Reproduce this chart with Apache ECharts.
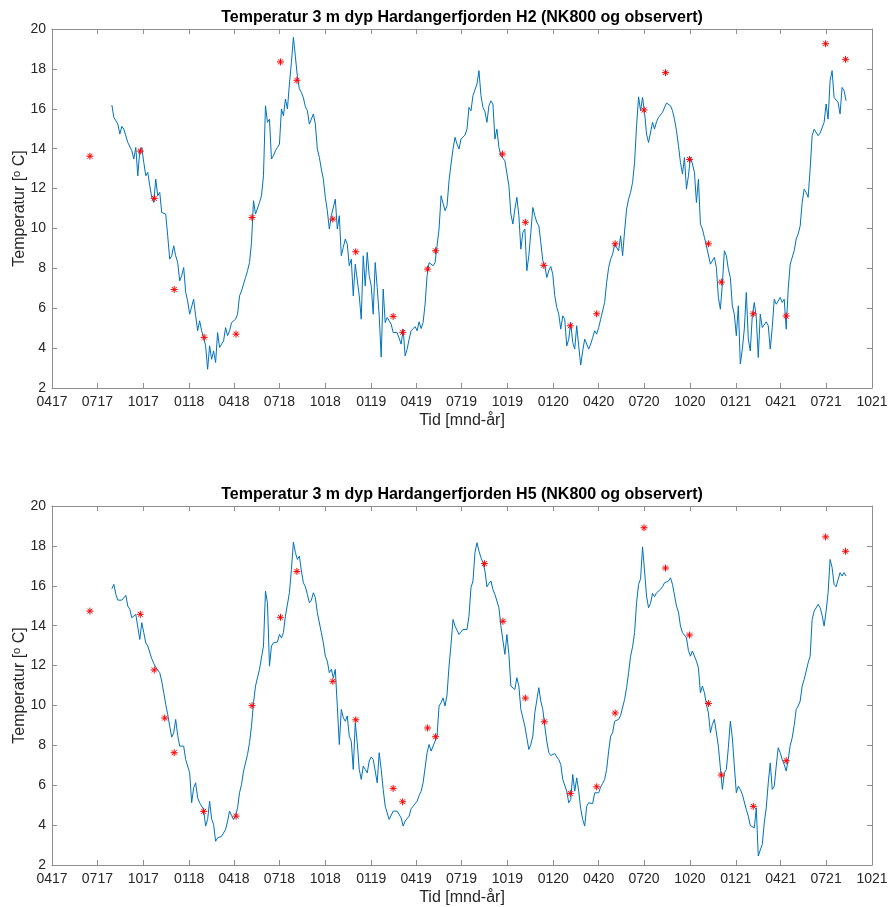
<!DOCTYPE html>
<html><head><meta charset="utf-8">
<script src="https://cdn.jsdelivr.net/npm/echarts@6/dist/echarts.min.js"></script>
<style>html,body{margin:0;padding:0;background:#fff}#c{width:889px;height:907px}</style>
</head><body><div id="c"></div>
<script>
// ---- data ----
const tickLabels = ['0417','0717','1017','0118','0418','0718','1018','0119','0419','0719','1019','0120','0420','0720','1020','0121','0421','0721','1021'];
const axisStart = '2017-04-01';
const lineStart = '2017-07-30';
const lineStepDays = 4;
const titles = ['Temperatur 3 m dyp Hardangerfjorden H2 (NK800 og observert)', 'Temperatur 3 m dyp Hardangerfjorden H5 (NK800 og observert)'];

const h2Model = [
16.19,15.57,15.40,15.23,14.73,15.12,14.98,15.07,14.31,14.40,
13.90,13.48,14.06,12.64,13.90,14.06,13.31,12.64,12.81,12.14,
11.56,11.30,12.47,11.64,11.81,10.80,10.89,10.72,9.63,8.46,
8.63,9.13,8.63,8.29,7.37,7.63,8.04,6.79,6.37,5.70,
5.62,6.45,5.62,4.87,5.37,4.87,4.53,4.11,2.94,4.11,
3.44,3.86,3.28,4.78,4.03,4.20,4.36,5.03,4.62,4.87,
5.28,5.28,5.45,5.70,6.62,6.87,6.96,7.54,7.88,8.29,
9.30,11.39,10.72,10.64,11.30,11.64,12.64,16.15,15.32,15.48,
13.48,13.65,13.90,14.06,14.23,15.99,15.65,16.49,15.99,17.24,
18.33,19.58,18.60,17.60,17.00,16.82,16.55,16.10,15.90,15.23,
15.32,15.74,15.23,13.98,13.56,12.98,12.47,11.56,10.89,9.97,
10.64,10.64,11.47,9.97,10.64,8.63,9.05,9.47,9.21,8.13,
8.46,6.62,8.21,8.29,6.62,5.45,8.63,7.12,8.80,7.63,
7.12,5.70,8.29,7.04,5.62,3.55,6.96,5.28,5.54,5.37,
5.20,4.78,4.87,4.78,4.82,4.20,4.95,3.61,3.95,4.45,
4.87,4.87,5.08,4.87,5.32,4.98,5.28,6.20,7.63,8.29,
8.29,8.13,8.29,9.13,9.97,11.64,11.56,10.89,11.14,12.39,
13.23,13.98,14.57,14.23,13.98,14.48,14.57,14.68,14.98,16.07,
15.90,16.66,16.74,17.24,17.91,16.66,16.07,15.85,15.32,16.15,
16.40,16.24,14.48,14.98,14.06,13.65,13.65,13.39,13.39,12.14,
10.72,10.22,10.97,11.56,10.64,8.96,9.80,9.97,7.88,8.63,
9.80,11.05,10.64,10.30,10.13,9.30,8.38,8.13,7.54,7.88,
8.09,7.71,6.62,6.04,5.70,4.95,5.62,5.45,4.11,4.45,
5.28,4.28,3.95,5.12,4.11,3.15,3.86,4.45,4.53,3.95,
4.20,4.53,4.87,4.70,5.03,5.45,5.54,6.29,7.29,8.04,
8.46,8.71,9.21,9.21,8.88,9.63,8.63,9.88,10.97,11.47,
11.81,12.31,13.31,15.15,16.60,15.90,16.57,15.82,14.73,14.31,
14.31,15.32,14.98,15.35,15.57,15.62,15.82,15.82,16.29,16.24,
16.15,15.90,15.48,14.90,14.15,13.31,12.73,13.56,11.97,12.64,
13.56,13.23,12.81,11.30,12.47,10.22,9.97,9.55,9.13,9.21,
8.21,8.29,8.55,8.04,6.54,5.95,7.21,8.88,8.63,7.96,
7.54,6.12,5.70,4.62,6.12,3.20,3.95,4.95,6.79,4.45,
3.86,5.62,6.29,5.54,3.53,5.70,5.03,5.12,5.32,5.12,
3.95,5.03,6.45,6.20,6.12,6.54,6.29,6.45,4.95,6.96,
8.21,8.29,8.88,9.47,9.72,10.13,11.30,11.97,11.81,11.56,
12.98,14.65,14.98,14.98,14.65,14.78,14.68,15.32,16.24,15.48,
17.41,17.91,16.57,16.52,16.32,15.74,17.07,16.91,16.40
];

const h5Model = [
15.85,16.07,15.57,15.28,15.18,15.28,15.40,15.52,14.98,14.82,
14.40,14.48,14.57,14.48,13.31,14.15,13.65,13.14,12.98,12.98,
12.34,12.11,11.91,11.97,11.64,11.22,10.64,10.05,9.55,8.96,
8.41,8.63,9.30,8.50,7.96,7.93,7.96,7.29,7.21,6.62,
5.12,5.87,6.12,5.37,5.12,5.12,4.78,3.95,4.28,5.20,
4.31,4.03,3.19,3.36,3.36,3.44,3.44,3.78,4.20,4.70,
4.48,4.28,4.45,4.87,5.62,6.04,6.71,7.12,7.54,8.13,
8.96,10.13,10.97,11.39,11.81,11.84,12.98,15.74,15.12,11.97,
12.98,13.14,13.23,13.18,13.56,13.39,13.65,14.48,14.48,15.65,
16.82,18.19,17.66,17.32,17.49,16.74,16.15,15.95,15.57,15.15,
15.28,15.65,15.40,14.65,14.65,13.65,13.14,12.47,12.22,11.64,
11.81,11.39,11.81,9.97,8.04,9.80,9.38,9.21,9.47,8.46,
8.21,6.79,9.13,8.13,6.79,6.29,6.96,6.79,6.62,7.21,
7.42,7.29,6.71,6.12,7.63,6.79,5.79,4.95,4.87,4.28,
4.36,4.70,4.78,4.70,4.65,4.36,3.95,4.20,4.11,4.45,
4.82,4.95,5.03,5.20,5.48,5.69,6.12,6.87,7.63,8.04,
7.71,7.96,8.21,8.46,9.97,10.13,10.38,9.97,10.55,11.97,
13.06,14.31,13.98,14.06,13.56,13.68,13.81,13.81,13.81,14.48,
15.90,16.24,17.66,18.16,17.74,17.41,17.16,16.74,15.95,16.12,
16.24,15.82,15.57,15.62,14.90,13.98,13.90,12.56,13.56,12.56,
10.97,10.89,10.80,11.39,10.97,9.80,9.88,8.96,8.38,7.79,
8.04,8.46,9.63,9.72,10.89,10.22,9.80,8.96,8.21,7.63,
7.49,7.59,7.59,7.42,7.29,7.04,6.29,6.20,5.70,5.12,
5.28,6.54,5.70,6.37,5.70,4.82,4.28,3.95,4.95,5.12,
5.15,5.08,5.62,5.70,5.62,5.92,6.09,6.29,6.79,7.71,
8.46,8.63,9.21,9.21,9.30,9.50,9.50,10.30,10.89,11.64,
12.47,12.94,13.65,15.15,16.07,16.35,17.95,16.74,15.48,14.90,
15.12,15.62,15.45,15.65,15.74,15.82,15.95,16.15,16.22,16.24,
16.40,16.07,15.99,14.98,14.68,13.98,13.65,13.73,13.39,12.75,
12.47,12.73,12.73,12.22,11.89,10.64,10.97,10.64,10.05,9.63,
8.63,9.05,9.30,9.21,7.96,6.87,5.79,6.62,6.79,7.88,
9.21,8.38,6.96,5.62,5.95,5.79,5.54,5.45,4.78,4.45,
3.98,4.03,3.86,4.87,2.45,2.75,3.03,4.11,4.87,6.12,
7.12,5.79,5.95,6.96,7.88,7.63,7.29,7.04,6.71,7.29,
7.99,8.38,9.00,9.80,9.97,10.22,10.97,11.30,11.72,12.14,
12.47,14.31,14.73,14.73,15.07,14.90,14.52,13.98,14.73,15.65,
17.32,16.91,16.07,15.95,15.85,16.66,16.49,16.66,16.49
];

const h2ObsDates = ['2017-06-16','2017-09-25','2017-10-23','2017-12-02','2018-01-31','2018-04-05','2018-05-07','2018-07-03','2018-08-05','2018-10-16','2018-12-01','2019-02-14','2019-03-05','2019-04-24','2019-05-10','2019-09-21','2019-11-06','2019-12-13','2020-02-04','2020-03-28','2020-05-04','2020-07-01','2020-08-13','2020-09-30','2020-11-07','2020-12-03','2021-02-05','2021-04-12','2021-06-30','2021-08-09'];
const h2Obs = [13.62,13.88,11.51,6.94,4.54,4.70,10.55,18.35,17.43,10.47,8.83,5.59,4.79,7.96,8.88,13.73,10.31,8.15,5.12,5.72,9.23,15.94,17.81,13.46,9.23,7.31,5.72,5.61,19.26,18.48];

const h5ObsDates = ['2017-06-16','2017-09-25','2017-10-23','2017-11-13','2017-12-02','2018-01-30','2018-04-05','2018-05-07','2018-07-03','2018-08-05','2018-10-16','2018-12-01','2019-02-14','2019-03-05','2019-04-24','2019-05-10','2019-08-16','2019-09-22','2019-11-06','2019-12-14','2020-02-04','2020-03-28','2020-05-04','2020-07-01','2020-08-13','2020-09-30','2020-11-07','2020-12-03','2021-02-05','2021-04-12','2021-06-30','2021-08-09'];
const h5Obs = [14.73,14.57,11.78,9.37,7.63,4.69,4.45,9.99,14.42,16.72,11.21,9.28,5.84,5.17,8.87,8.43,17.11,14.22,10.37,9.18,5.59,5.92,9.62,18.91,16.89,13.53,10.10,6.51,4.94,7.23,18.45,17.73];

// ---- helpers ----
const DAY = 86400000;
const t0 = Date.parse(axisStart);
const dayOf = s => (Date.parse(s) - t0) / DAY;
const labelDay = l => (Date.UTC(2000 + (+l.slice(2)), (+l.slice(0, 2)) - 1, 1) - t0) / DAY;
const tickDays = tickLabels.map(labelDay);
const lineStartDay = dayOf(lineStart);
const modelPts = arr => arr.map((v, i) => [lineStartDay + i * lineStepDays, v]);
const obsPts = (d, v) => d.map((s, i) => [dayOf(s), v[i]]);

const FONT = '"Liberation Sans", Arial, Helvetica, sans-serif';
const AX = '#8f8f8f';
const TXT = '#262626';
const STAR = 'path://M5,0L5,10M0,5L10,5M1.5,1.5L8.5,8.5M1.5,8.5L8.5,1.5';

const grids = [
  {left: 52, top: 29, width: 820, height: 359, containLabel: false, outerBoundsMode: 'none'},
  {left: 52, top: 506, width: 820, height: 359, containLabel: false, outerBoundsMode: 'none'}
];

const xAxis = [], yAxis = [];
grids.forEach((g, gi) => {
  xAxis.push({
    type: 'value', gridIndex: gi, position: 'bottom',
    min: tickDays[0], max: tickDays[tickDays.length - 1],
    axisLine: {show: true, onZero: false, lineStyle: {color: AX, width: 1}},
    axisTick: {show: true, inside: true, length: 5, customValues: tickDays, lineStyle: {color: AX}},
    axisLabel: {
      show: true, customValues: tickDays, margin: 7, color: TXT, fontSize: 14, fontFamily: FONT,
      formatter: v => { const k = tickDays.findIndex(d => Math.abs(d - v) < 0.5); return k >= 0 ? tickLabels[k] : ''; }
    },
    splitLine: {show: false},
    name: 'Tid [mnd-år]', nameLocation: 'middle', nameGap: 25, nameMoveOverlap: false,
    nameTextStyle: {color: TXT, fontSize: 16, fontFamily: FONT}
  });
  xAxis.push({
    type: 'value', gridIndex: gi, position: 'top',
    min: tickDays[0], max: tickDays[tickDays.length - 1],
    axisLine: {show: true, onZero: false, lineStyle: {color: AX, width: 1}},
    axisTick: {show: true, inside: true, length: 5, customValues: tickDays, lineStyle: {color: AX}},
    axisLabel: {show: false}, splitLine: {show: false}
  });
  yAxis.push({
    type: 'value', gridIndex: gi, position: 'left', min: 2, max: 20, interval: 2,
    axisLine: {show: true, onZero: false, lineStyle: {color: AX, width: 1}},
    axisTick: {show: true, inside: true, length: 5, lineStyle: {color: AX}},
    axisLabel: {margin: 6, color: TXT, fontSize: 14, fontFamily: FONT},
    splitLine: {show: false},
    name: 'Temperatur [{sup|o} C]', nameLocation: 'middle', nameGap: 24, nameMoveOverlap: false,
    nameTextStyle: {color: TXT, fontSize: 16, fontFamily: FONT,
      rich: {sup: {fontSize: 11, color: TXT, fontFamily: FONT, verticalAlign: 'top', lineHeight: 17}}}
  });
  yAxis.push({
    type: 'value', gridIndex: gi, position: 'right', min: 2, max: 20, interval: 2,
    axisLine: {show: true, onZero: false, lineStyle: {color: AX, width: 1}},
    axisTick: {show: true, inside: true, length: 5, lineStyle: {color: AX}},
    axisLabel: {show: false}, splitLine: {show: false}
  });
});

const lineSeries = (data, gi) => ({
  type: 'line', xAxisIndex: gi * 2, yAxisIndex: gi * 2, data: data,
  showSymbol: false, symbol: 'none', lineStyle: {color: '#0072BD', width: 1}, z: 2
});
const obsSeries = (data, gi) => ({
  type: 'scatter', xAxisIndex: gi * 2, yAxisIndex: gi * 2, data: data,
  symbol: STAR, symbolSize: 7,
  itemStyle: {color: 'rgba(0,0,0,0)', borderColor: '#ff0000', borderWidth: 1, opacity: 1}, z: 3
});

const chart = echarts.init(document.getElementById('c'), null, {renderer: 'canvas'});
chart.setOption({
  animation: false,
  backgroundColor: '#ffffff',
  grid: grids,
  xAxis: xAxis,
  yAxis: yAxis,
  graphic: titles.map((t, gi) => ({
    type: 'text', x: grids[gi].left + grids[gi].width / 2, y: grids[gi].top - 11,
    style: {text: t, textAlign: 'center', textVerticalAlign: 'middle', fill: '#000',
      font: 'bold 16px ' + FONT}
  })),
  series: [
    lineSeries(modelPts(h2Model), 0),
    obsSeries(obsPts(h2ObsDates, h2Obs), 0),
    lineSeries(modelPts(h5Model), 1),
    obsSeries(obsPts(h5ObsDates, h5Obs), 1)
  ]
});
</script>
</body></html>
